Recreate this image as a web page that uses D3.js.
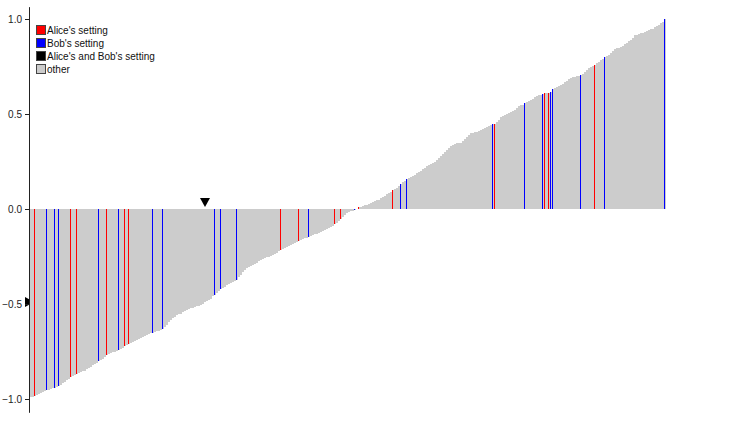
<!DOCTYPE html>
<html>
<head>
<meta charset="utf-8">
<script src="https://cdn.jsdelivr.net/npm/d3@7"></script>
<style>
  html, body { margin: 0; padding: 0; background: #fff; }
  svg { display: block; font-family: "Liberation Sans", Arial, sans-serif; }
</style>
</head>
<body>
<div id="chart"></div>
<script>
// sorted scores, one per bar (left to right)
const values = [
  -0.99,-0.99,-0.985,-0.98,-0.975,-0.97,-0.965,-0.96,-0.95,-0.95,
  -0.945,-0.94,-0.94,-0.935,-0.93,-0.925,-0.915,-0.91,-0.9,-0.895,
  -0.885,-0.88,-0.875,-0.87,-0.865,-0.86,-0.855,-0.85,-0.84,-0.835,
  -0.83,-0.82,-0.815,-0.81,-0.80,-0.795,-0.79,-0.78,-0.77,-0.765,
  -0.76,-0.755,-0.75,-0.745,-0.74,-0.735,-0.73,-0.72,-0.715,-0.71,
  -0.705,-0.70,-0.695,-0.69,-0.685,-0.68,-0.675,-0.67,-0.665,-0.66,
  -0.655,-0.65,-0.645,-0.64,-0.64,-0.635,-0.63,-0.62,-0.61,-0.595,
  -0.585,-0.575,-0.57,-0.56,-0.555,-0.55,-0.54,-0.535,-0.53,-0.525,
  -0.52,-0.52,-0.515,-0.51,-0.51,-0.505,-0.5,-0.49,-0.485,-0.48,
  -0.475,-0.46,-0.45,-0.44,-0.43,-0.42,-0.415,-0.41,-0.4,-0.395,
  -0.39,-0.385,-0.38,-0.375,-0.36,-0.345,-0.33,-0.32,-0.31,-0.305,
  -0.30,-0.295,-0.29,-0.285,-0.275,-0.27,-0.265,-0.26,-0.255,-0.25,
  -0.245,-0.24,-0.235,-0.23,-0.22,-0.215,-0.21,-0.205,-0.2,-0.195,
  -0.19,-0.185,-0.18,-0.175,-0.17,-0.165,-0.16,-0.155,-0.15,-0.145,
  -0.14,-0.135,-0.13,-0.13,-0.125,-0.12,-0.115,-0.11,-0.105,-0.1,
  -0.095,-0.09,-0.08,-0.075,-0.065,-0.05,-0.04,-0.03,-0.02,-0.015,
  -0.01,-0.008,-0.005,-0.002,0.01,0.012,0.015,0.02,0.022,0.025,
  0.03,0.035,0.04,0.045,0.05,0.06,0.065,0.07,0.08,0.085,
  0.09,0.1,0.105,0.11,0.12,0.13,0.14,0.15,0.16,0.165,
  0.17,0.175,0.18,0.19,0.195,0.2,0.21,0.215,0.225,0.23,
  0.235,0.24,0.25,0.26,0.27,0.28,0.29,0.3,0.31,0.32,
  0.33,0.335,0.34,0.345,0.345,0.35,0.36,0.37,0.38,0.39,
  0.40,0.40,0.405,0.405,0.41,0.415,0.42,0.425,0.43,0.435,
  0.44,0.445,0.45,0.46,0.47,0.485,0.49,0.495,0.5,0.505,
  0.51,0.515,0.52,0.53,0.54,0.545,0.55,0.56,0.565,0.57,
  0.575,0.58,0.59,0.595,0.6,0.6,0.605,0.61,0.61,0.612,
  0.615,0.63,0.635,0.64,0.65,0.655,0.66,0.67,0.675,0.685,
  0.69,0.695,0.695,0.7,0.7,0.705,0.71,0.72,0.73,0.74,
  0.75,0.755,0.76,0.77,0.775,0.785,0.79,0.80,0.805,0.81,
  0.82,0.83,0.84,0.845,0.85,0.855,0.86,0.87,0.875,0.885,
  0.89,0.90,0.915,0.915,0.92,0.925,0.925,0.93,0.935,0.94,
  0.945,0.95,0.96,0.965,0.97,0.98,0.985,1.0
];

// bar indices of the highlighted settings
const aliceIdx = [2, 20, 23, 38, 47, 49, 125, 134, 152, 155, 164, 181, 232, 257, 259, 282];
const bobIdx = [8, 12, 14, 34, 44, 61, 66, 92, 95, 103, 139, 162, 185, 188, 231, 247, 256, 260, 261, 275, 287, 317];
const bothIdx = [];
const markerIdx = 87;

const yTicks = [-1, -0.5, 0, 0.5, 1];
const legendLabels = ["Alice's setting", "Bob's setting", "Alice's and Bob's setting", "other"];
const legendColors = ["#ff0000", "#0000ff", "#000000", "#cccccc"];

const width = 729, height = 435;
const margin = { top: 6.65, left: 30, right: 63 };

const svg = d3.select("#chart").append("svg")
  .attr("width", width)
  .attr("height", height);

const x = d3.scaleBand()
  .domain(d3.range(values.length))
  .range([margin.left, margin.left + values.length * 2])
  .padding(0);

const y = d3.scaleLinear()
  .domain([-1.07, 1.065])
  .range([412.3, margin.top]);

// marker on the y axis (drawn first so the bars cover its right half)
const mv = values[markerIdx];
svg.append("path")
  .attr("d", `M${margin.left - 5},${y(mv) - 5}L${margin.left - 5},${y(mv) + 5}L${margin.left + 4},${y(mv)}Z`)
  .attr("fill", "#000");

// gray bars
svg.append("g")
  .attr("shape-rendering", "crispEdges")
  .selectAll("rect")
  .data(values)
  .join("rect")
  .attr("x", (d, i) => x(i))
  .attr("width", x.bandwidth())
  .attr("y", d => y(Math.max(0, d)))
  .attr("height", d => Math.abs(y(d) - y(0)))
  .attr("fill", "#cccccc");

// highlighted bars
const highlights = [
  ...aliceIdx.map(i => ({ i, c: legendColors[0] })),
  ...bobIdx.map(i => ({ i, c: legendColors[1] })),
  ...bothIdx.map(i => ({ i, c: legendColors[2] }))
];
svg.append("g")
  .attr("shape-rendering", "crispEdges")
  .selectAll("rect")
  .data(highlights)
  .join("rect")
  .attr("x", d => x(d.i))
  .attr("width", x.bandwidth() / 2)
  .attr("y", d => y(Math.max(0, values[d.i])))
  .attr("height", d => Math.abs(y(values[d.i]) - y(0)))
  .attr("fill", d => d.c);

// marker above the baseline
const mx = x(markerIdx) + x.bandwidth() / 2;
svg.append("path")
  .attr("d", `M${mx - 5},${y(0) - 11}L${mx + 5},${y(0) - 11}L${mx},${y(0) - 2}Z`)
  .attr("fill", "#000");

// y axis
const yAxis = svg.append("g")
  .attr("transform", `translate(${margin.left - 1},0)`)
  .call(d3.axisLeft(y).tickValues(yTicks).tickFormat(d3.format(".1f")).tickSize(4).tickSizeOuter(0));
yAxis.select(".domain").attr("stroke", "#222");
yAxis.selectAll(".tick line").attr("stroke", "#222");
yAxis.selectAll(".tick text")
  .attr("fill", "#222")
  .style("font-family", "'Liberation Sans', Arial, sans-serif")
  .style("font-size", "10px");

// legend
const legend = svg.append("g").attr("transform", "translate(36,25)");
legendLabels.forEach((label, i) => {
  legend.append("rect")
    .attr("x", 0.5).attr("y", i * 13 + 0.5)
    .attr("width", 9).attr("height", 9)
    .attr("fill", legendColors[i])
    .attr("stroke", "#444");
  legend.append("text")
    .attr("x", 11).attr("y", i * 13 + 8.5)
    .style("font-size", "10px")
    .attr("fill", "#111")
    .text(label);
});
</script>
</body>
</html>
